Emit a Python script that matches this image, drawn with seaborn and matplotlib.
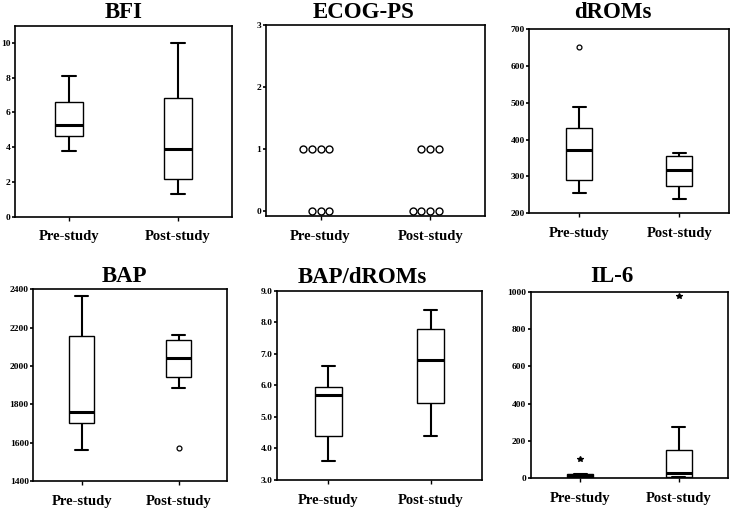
import numpy as np
import pandas as pd
import matplotlib
matplotlib.use('Agg')
import matplotlib.pyplot as plt
import seaborn as sns

# Data (7 patients per phase)
phases = ['Pre-study', 'Post-study']

bfi_pre = [3.8, 4.5, 4.8, 5.3, 6.2, 7.0, 8.1]
bfi_post = [1.3, 2.0, 2.3, 3.9, 6.5, 7.2, 10.0]

ecog_pre = [1, 1, 1, 1, 0, 0, 0]
ecog_post = [1, 1, 1, 0, 0, 0, 0]

droms_pre = [255, 285, 295, 372, 376, 490, 652]
droms_post = [240, 270, 280, 317, 350, 364, 365]

bap_pre = [1560, 1690, 1720, 1762, 2110, 2200, 2365]
bap_post = [1570, 1885, 2005, 2042, 2130, 2146, 2160]

ratio_pre = [3.6, 4.2, 4.6, 5.7, 5.8, 6.1, 6.6]
ratio_post = [4.4, 5.2, 5.7, 6.8, 7.5, 8.1, 8.4]

il6_pre = [1, 3, 7, 12, 16, 22, 103]
il6_post = [2, 4, 8, 25, 32, 272, 980]


def long_df(pre, post):
    return pd.DataFrame({'phase': ['Pre-study'] * len(pre) + ['Post-study'] * len(post),
                         'value': list(pre) + list(post)})


sns.set_style('ticks')
plt.rcParams['font.family'] = ['Liberation Serif', 'DejaVu Serif']
plt.rcParams['font.weight'] = 'bold'
plt.rcParams['text.color'] = 'black'
plt.rcParams['xtick.color'] = 'black'
plt.rcParams['ytick.color'] = 'black'

fig = plt.figure(figsize=(7.36, 5.13), dpi=100)
W, H = 736.0, 513.0


def make_ax(l, t, r, b):
    return fig.add_axes([l / W, 1 - b / H, (r - l) / W, (b - t) / H])


def style_ax(ax, ylim, yticks, fmt):
    ax.set_xlim(-0.5, 1.5)
    ax.set_ylim(*ylim)
    ax.set_yticks(yticks)
    ax.set_yticklabels([fmt.format(v) for v in yticks])
    ax.set_xlabel('')
    ax.set_ylabel('')
    for sp in ax.spines.values():
        sp.set_visible(True)
        sp.set_linewidth(1.2)
        sp.set_color('black')
    ax.tick_params(axis='y', length=2.5, width=1.2, pad=0.8, labelsize=6.8, colors='black')
    ax.tick_params(axis='x', length=3, width=1, pad=7, labelsize=10.5, colors='black')


def box_panel(ax, pre, post, marker, msize, face):
    d = long_df(pre, post)
    sns.boxplot(data=d, x='phase', y='value', order=phases, ax=ax, width=0.26,
                color='white', linecolor='black', linewidth=1.0, whis=1.5,
                fliersize=msize,
                flierprops=dict(marker=marker, markersize=msize, markerfacecolor=face,
                                markeredgecolor='black', markeredgewidth=0.9),
                medianprops=dict(linewidth=2.2, color='black'),
                whiskerprops=dict(linewidth=1.5, color='black'),
                capprops=dict(linewidth=1.5, color='black'))


# BFI
ax = make_ax(15, 25.7, 232, 216.5)
box_panel(ax, bfi_pre, bfi_post, 'o', 3.5, 'white')
style_ax(ax, (0, 11), [0, 2, 4, 6, 8, 10], '{:d}')

# ECOG-PS
ax = make_ax(265.7, 25, 485, 216)
sns.swarmplot(data=long_df(ecog_pre, ecog_post), x='phase', y='value', order=phases,
              ax=ax, color='white', edgecolor='black', linewidth=1.0, size=5)
style_ax(ax, (-0.08, 3.0), [0, 1, 2, 3], '{:d}')

# dROMs
ax = make_ax(529.3, 29.3, 729.3, 213.3)
box_panel(ax, droms_pre, droms_post, 'o', 3.5, 'white')
style_ax(ax, (200, 700), [200, 300, 400, 500, 600, 700], '{:d}')

# BAP
ax = make_ax(33.3, 289.3, 227.3, 481)
box_panel(ax, bap_pre, bap_post, 'o', 3.5, 'white')
style_ax(ax, (1400, 2400), [1400, 1600, 1800, 2000, 2200, 2400], '{:d}')

# BAP/dROMs
ax = make_ax(277.3, 290.7, 481.7, 480)
box_panel(ax, ratio_pre, ratio_post, 'o', 3.5, 'white')
style_ax(ax, (3.0, 9.0), [3.0, 4.0, 5.0, 6.0, 7.0, 8.0, 9.0], '{:.1f}')

# IL-6
ax = make_ax(530.7, 292.3, 728.3, 477.7)
box_panel(ax, il6_pre, il6_post, '*', 4, 'black')
style_ax(ax, (0, 1000), [0, 200, 400, 600, 800, 1000], '{:d}')

titles = ['BFI', 'ECOG-PS', 'dROMs', 'BAP', 'BAP/dROMs', 'IL-6']
title_xy = [(124, 18.5), (364, 18.5), (613, 18.5), (124, 282), (362, 283), (612, 282)]
for t, (x, y) in zip(titles, title_xy):
    fig.text(x / W, 1 - y / H, t, ha='center', va='baseline', fontsize=16.5,
             fontweight='bold', color='black')

fig.savefig('out.png', dpi=100)
